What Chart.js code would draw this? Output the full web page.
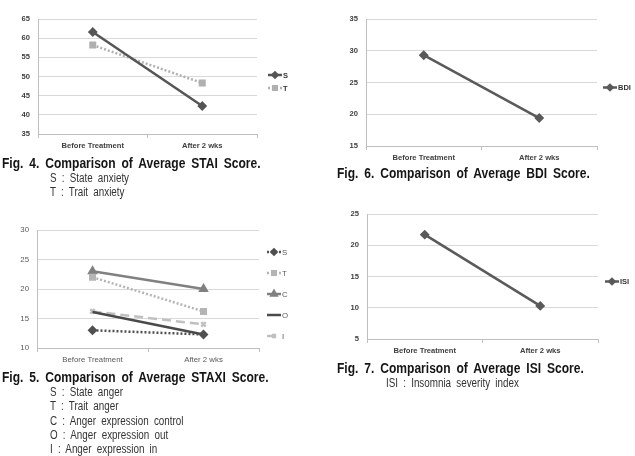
<!DOCTYPE html>
<html>
<head>
<meta charset="utf-8">
<script src="https://cdn.jsdelivr.net/npm/chart.js@4/dist/chart.umd.min.js"></script>
<style>
  body { margin: 0; background: #fff; }
  #page { position: relative; width: 635px; height: 456px; overflow: hidden; font-family: 'Liberation Sans', Arial, sans-serif; }
  .box { position: absolute; }
  .cap { position: absolute; white-space: nowrap; font-weight: bold; font-size: 14px; color: #151515;
         transform-origin: left center; transform: scaleX(0.86); word-spacing: 3px; line-height: 14px; }
  .sub { position: absolute; white-space: nowrap; font-size: 12px; color: #333;
         transform-origin: left center; transform: scaleX(0.82); word-spacing: 3px; line-height: 12px; }
</style>
</head>
<body>
<div id="page">
  <div class="box" style="left:0;top:0;width:300px;height:160px"><canvas id="c1"></canvas></div>
  <div class="box" style="left:320px;top:0;width:315px;height:170px"><canvas id="c2"></canvas></div>
  <div class="box" style="left:0;top:215px;width:300px;height:155px"><canvas id="c3"></canvas></div>
  <div class="box" style="left:320px;top:200px;width:315px;height:163px"><canvas id="c4"></canvas></div>

  <div class="cap" style="left:2px;top:156px">Fig. 4. Comparison of Average STAI Score.</div>
  <div class="sub" style="left:50px;top:172px">S : State anxiety</div>
  <div class="sub" style="left:50px;top:186px">T : Trait anxiety</div>

  <div class="cap" style="left:337px;top:166px">Fig. 6. Comparison of Average BDI Score.</div>

  <div class="cap" style="left:2px;top:370px">Fig. 5. Comparison of Average STAXI Score.</div>
  <div class="sub" style="left:50px;top:386px">S : State anger</div>
  <div class="sub" style="left:50px;top:400px">T : Trait anger</div>
  <div class="sub" style="left:50px;top:415px">C : Anger expression control</div>
  <div class="sub" style="left:50px;top:429px">O : Anger expression out</div>
  <div class="sub" style="left:50px;top:443px">I : Anger expression in</div>

  <div class="cap" style="left:337px;top:361px">Fig. 7. Comparison of Average ISI Score.</div>
  <div class="sub" style="left:386px;top:377px">ISI : Insomnia severity index</div>
</div>
<script>
// categories and series
var categories = ['Before Treatment', 'After 2 wks'];

var staiS = [61.6, 42.3];
var staiT = [58.2, 48.3];

var bdi = [29.3, 19.4];

var staxiS = [13.0, 12.3];
var staxiT = [22.0, 16.2];
var staxiC = [23.0, 20.0];
var staxiO = [16.1, 12.3];
var staxiI = [16.2, 14.0];

var isi = [21.7, 10.3];

// Excel style legend: short line with marker, drawn at the right of the plot
var excelLegend = {
  id: 'excelLegend',
  afterDraw: function(chart, args, opts) {
    var ctx = chart.ctx, area = chart.chartArea;
    var sets = chart.data.datasets;
    var gap = opts.gap || 13;
    var y = (area.top + area.bottom) / 2 + 5 - gap * (sets.length - 1) / 2;
    var x = area.right + (opts.dx || 8);
    sets.forEach(function(ds) {
      ctx.save();
      ctx.strokeStyle = ds.borderColor;
      ctx.lineWidth = ds.borderWidth;
      ctx.setLineDash(ds.borderDash || []);
      ctx.beginPath();
      ctx.moveTo(x, y);
      ctx.lineTo(x + 14, y);
      ctx.stroke();
      ctx.setLineDash([]);
      if (ds.pointRadius > 0) {
        ctx.fillStyle = ds.pointBackgroundColor;
        ctx.strokeStyle = ds.pointBorderColor;
        Chart.helpers.drawPoint(ctx, {pointStyle: ds.pointStyle, radius: ds.pointRadius * 0.8, rotation: 0, borderWidth: 1}, x + 7, y);
      }
      ctx.fillStyle = opts.color || '#333';
      ctx.font = opts.font || 'bold 7.5px "Liberation Sans", Arial, sans-serif';
      ctx.textBaseline = 'middle';
      ctx.fillText(ds.label, x + 15, y + 0.5);
      ctx.restore();
      y += gap;
    });
  }
};

function serie(label, data, cor, estilo, dash, raio) {
  return {
    label: label,
    data: data,
    borderColor: cor,
    backgroundColor: cor,
    pointBackgroundColor: cor,
    pointBorderColor: cor,
    borderWidth: 2.5,
    borderDash: dash,
    pointStyle: estilo,
    pointRadius: raio,
    pointHoverRadius: raio,
    tension: 0
  };
}

function criaGrafico(id, datasets, min, max, caixa, fonte, legenda) {
  var ctx = document.getElementById(id).getContext('2d');
  return new Chart(ctx, {
    type: 'line',
    data: { labels: categories, datasets: datasets },
    plugins: [excelLegend],
    options: {
      responsive: true,
      maintainAspectRatio: false,
      animation: false,
      layout: { padding: { top: caixa.top, right: caixa.right, left: 0, bottom: 0 } },
      plugins: {
        legend: { display: false },
        tooltip: { enabled: false },
        excelLegend: legenda
      },
      scales: {
        x: {
          offset: true,
          grid: { offset: true, drawOnChartArea: false, drawTicks: true, tickLength: 4, color: '#bfbfbf' },
          border: { color: '#bfbfbf' },
          ticks: { color: fonte.color, font: fonte.font, padding: 3, maxRotation: 0 },
          afterFit: function(s) { s.height = caixa.xh; }
        },
        y: {
          min: min, max: max,
          grid: { color: '#d9d9d9', drawTicks: false },
          border: { color: '#bfbfbf' },
          ticks: { stepSize: 5, color: fonte.color, font: fonte.font, padding: 8 },
          afterFit: function(s) { s.width = caixa.left; }
        }
      }
    }
  });
}

var fonteNegrito = { color: '#404040', font: { family: '"Liberation Sans", Arial, sans-serif', size: 7.6, weight: 'bold' } };
var fonteNormal = { color: '#595959', font: { family: '"Liberation Sans", Arial, sans-serif', size: 7.8, weight: 'normal' } };

criaGrafico('c1', [
  serie('S', staiS, '#555555', 'rectRot', [], 3.2),
  serie('T', staiT, '#b0b0b0', 'rect', [2, 2], 3.2)
], 35, 65, { left: 38, right: 43, top: 19, xh: 26 }, fonteNegrito, { gap: 13, dx: 11 });

criaGrafico('c2', [
  serie('BDI', bdi, '#5a5a5a', 'rectRot', [], 3.2)
], 15, 35, { left: 46, right: 38, top: 19, xh: 24 }, fonteNegrito, { gap: 13, dx: 6 });

criaGrafico('c3', [
  serie('S', staxiS, '#505050', 'rectRot', [2, 2], 3.2),
  serie('T', staxiT, '#b5b5b5', 'rect', [2, 2], 3.2),
  serie('C', staxiC, '#808080', 'triangle', [], 3.6),
  serie('O', staxiO, '#4a4a4a', 'circle', [], 0),
  serie('I', staxiI, '#c0c0c0', 'crossRot', [9, 5], 3.2)
], 10, 30, { left: 37, right: 41, top: 15, xh: 22 }, fonteNormal,
  { gap: 21, dx: 8, color: '#595959', font: '7.8px "Liberation Sans", Arial, sans-serif' });

criaGrafico('c4', [
  serie('ISI', isi, '#5a5a5a', 'rectRot', [], 3.2)
], 5, 25, { left: 47, right: 37, top: 14, xh: 24 }, fonteNegrito, { gap: 13, dx: 7 });
</script>
</body>
</html>
